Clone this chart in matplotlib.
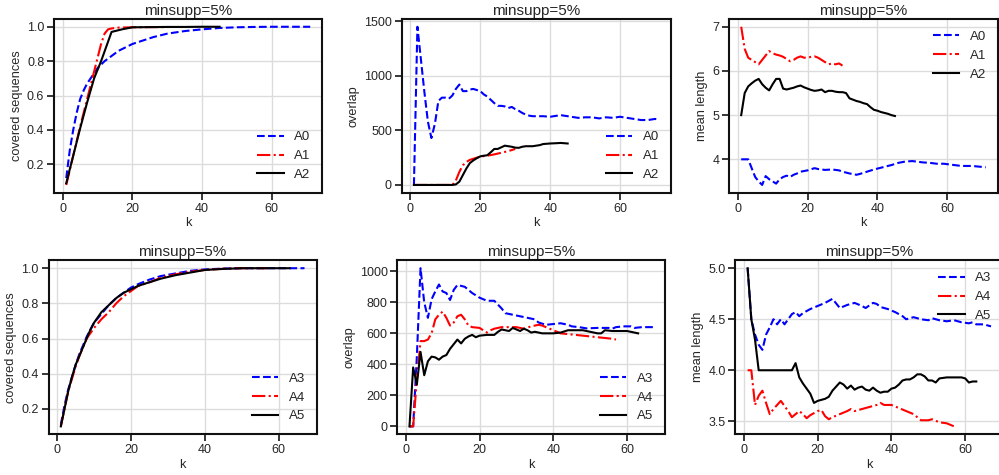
import matplotlib
matplotlib.use("Agg")
import matplotlib.pyplot as plt

# ---- top row: A0, A1, A2 ----
cov_k_a0 = [1, 2, 3, 4, 5, 6, 7, 8, 9, 10, 12, 14, 16, 18, 20, 23, 26, 30, 35, 40, 45, 50, 55, 60, 65, 71]
cov_a0 = [0.12, 0.28, 0.40, 0.50, 0.58, 0.63, 0.67, 0.70, 0.73, 0.76, 0.80, 0.83, 0.86, 0.88, 0.90, 0.92,
          0.94, 0.96, 0.975, 0.985, 0.993, 0.997, 0.999, 1.0, 1.0, 1.0]
cov_k_a1 = [1, 3, 5, 7, 9, 11, 12, 13, 14, 16, 20, 25, 30]
cov_a1 = [0.08, 0.25, 0.42, 0.58, 0.74, 0.90, 0.96, 0.985, 0.99, 0.995, 0.997, 0.998, 0.998]
cov_k_a2 = [1, 3, 5, 7, 9, 11, 14, 17, 20, 25, 30, 35, 40, 45]
cov_a2 = [0.09, 0.25, 0.41, 0.56, 0.70, 0.80, 0.97, 0.985, 0.997, 0.998, 0.999, 0.999, 1.0, 1.0]

ov_k_a0 = [1, 2, 3, 4, 5, 6, 7, 8, 9, 10, 11, 12, 13, 14, 15, 16, 17, 18, 19, 20, 21, 22, 23, 24, 25,
           26, 27, 28, 29, 30, 31, 32, 33, 34, 35, 38, 40, 42, 43, 45, 48, 50, 52, 54, 56, 58, 60, 62,
           64, 66, 68, 70, 71]
ov_a0 = [0, 1450, 1150, 850, 580, 430, 560, 770, 800, 800, 790, 820, 880, 920, 860, 860, 875, 880, 870,
         860, 830, 810, 780, 750, 725, 725, 720, 705, 715, 695, 680, 660, 645, 635, 630, 630, 625, 635,
         640, 630, 615, 620, 620, 610, 620, 615, 625, 615, 605, 595, 595, 605, 600]
ov_k_a1 = [1, 12, 13, 14, 15, 16, 17, 18, 19, 20, 22, 24, 26, 28, 30]
ov_a1 = [0, 0, 40, 120, 180, 210, 230, 240, 250, 260, 268, 280, 295, 310, 330]
ov_k_a2 = [1, 12, 13, 14, 15, 16, 17, 18, 19, 20, 21, 22, 23, 24, 25, 26, 27, 28, 29, 30, 31, 32, 33,
           35, 37, 38, 40, 42, 43, 45]
ov_a2 = [0, 0, 5, 30, 90, 150, 200, 225, 245, 262, 268, 272, 300, 330, 330, 345, 360, 355, 350, 342,
         340, 350, 355, 355, 365, 375, 380, 383, 385, 380]

ml_k_a0 = [1, 2, 3, 4, 5, 6, 7, 8, 9, 10, 11, 12, 13, 14, 15, 16, 17, 18, 20, 22, 23, 25, 27, 29, 30,
           32, 34, 35, 37, 39, 42, 44, 46, 48, 50, 53, 55, 57, 59, 61, 64, 67, 71]
ml_a0 = [4.0, 4.0, 4.0, 3.8, 3.6, 3.5, 3.42, 3.62, 3.55, 3.5, 3.45, 3.55, 3.6, 3.63, 3.6, 3.65, 3.68,
         3.72, 3.75, 3.8, 3.78, 3.76, 3.77, 3.75, 3.72, 3.68, 3.65, 3.67, 3.72, 3.77, 3.83, 3.87, 3.92,
         3.95, 3.96, 3.93, 3.92, 3.9, 3.9, 3.88, 3.85, 3.85, 3.82]
ml_k_a1 = list(range(1, 31))
ml_a1 = [7.0, 6.5, 6.3, 6.25, 6.2, 6.15, 6.25, 6.35, 6.45, 6.4, 6.37, 6.35, 6.32, 6.27, 6.22, 6.25,
         6.3, 6.33, 6.3, 6.3, 6.32, 6.33, 6.3, 6.25, 6.2, 6.15, 6.17, 6.15, 6.17, 6.12]
ml_k_a2 = list(range(1, 46))
ml_a2 = [5.0, 5.5, 5.65, 5.72, 5.78, 5.82, 5.7, 5.62, 5.56, 5.7, 5.82, 5.82, 5.6, 5.58, 5.6, 5.62,
         5.65, 5.67, 5.63, 5.6, 5.57, 5.55, 5.56, 5.58, 5.52, 5.55, 5.55, 5.53, 5.52, 5.52, 5.5, 5.38,
         5.35, 5.32, 5.3, 5.27, 5.25, 5.18, 5.12, 5.1, 5.07, 5.05, 5.03, 5.0, 4.98]

# ---- bottom row: A3, A4, A5 ----
cov_k_a3 = [1, 2, 3, 4, 5, 6, 7, 8, 9, 10, 12, 14, 16, 18, 20, 22, 25, 28, 32, 36, 40, 45, 50, 55, 60, 67]
cov_a3 = [0.11, 0.22, 0.31, 0.38, 0.45, 0.51, 0.56, 0.61, 0.65, 0.69, 0.74, 0.79, 0.83, 0.86, 0.89,
          0.91, 0.935, 0.955, 0.97, 0.985, 0.993, 0.998, 1.0, 1.0, 1.0, 1.0]
cov_k_a4 = [1, 2, 3, 4, 5, 6, 7, 8, 9, 10, 12, 14, 16, 18, 20, 22, 25, 28, 32, 36, 40, 45, 50, 57]
cov_a4 = [0.10, 0.20, 0.30, 0.37, 0.44, 0.50, 0.55, 0.60, 0.63, 0.66, 0.71, 0.75, 0.80, 0.84, 0.87,
          0.90, 0.92, 0.945, 0.965, 0.98, 0.99, 0.997, 1.0, 1.0]
cov_k_a5 = [1, 2, 3, 4, 5, 6, 7, 8, 9, 10, 12, 14, 16, 18, 20, 22, 25, 28, 32, 36, 40, 45, 50, 55, 63]
cov_a5 = [0.10, 0.20, 0.30, 0.38, 0.45, 0.50, 0.55, 0.60, 0.65, 0.69, 0.75, 0.79, 0.83, 0.86, 0.88,
          0.90, 0.92, 0.94, 0.96, 0.975, 0.99, 0.996, 1.0, 1.0, 1.0]

ov_k_a3 = [1, 2, 3, 4, 5, 6, 7, 8, 9, 10, 11, 12, 13, 14, 16, 18, 20, 22, 24, 26, 27, 29, 31, 33, 35,
           36, 38, 40, 42, 44, 45, 47, 49, 52, 55, 56, 57, 59, 61, 62, 64, 67]
ov_a3 = [0, 0, 450, 1020, 800, 700, 820, 870, 915, 870, 860, 815, 880, 912, 900, 860, 830, 810, 810,
         760, 730, 720, 710, 700, 690, 670, 655, 660, 665, 655, 645, 640, 632, 635, 635, 630, 640, 645,
         645, 635, 640, 640]
ov_k_a4 = [1, 2, 3, 4, 5, 6, 7, 8, 9, 10, 11, 12, 13, 14, 15, 16, 17, 18, 20, 22, 23, 24, 26, 28, 30,
           32, 34, 36, 37, 38, 40, 42, 44, 46, 48, 50, 52, 54, 56, 57]
ov_a4 = [0, 0, 300, 550, 550, 560, 600, 690, 720, 740, 700, 650, 670, 710, 720, 690, 650, 640, 635,
         605, 620, 630, 640, 640, 640, 630, 645, 655, 650, 640, 620, 600, 595, 590, 585, 580, 575, 570,
         565, 560]
ov_k_a5 = [1, 2, 3, 4, 5, 6, 7, 8, 9, 10, 11, 12, 13, 14, 15, 16, 17, 18, 19, 20, 22, 24, 25, 26, 28,
           29, 30, 31, 32, 33, 34, 35, 36, 37, 40, 42, 44, 46, 48, 50, 52, 53, 54, 56, 58, 60, 62, 63]
ov_a5 = [0, 380, 270, 480, 330, 420, 450, 445, 430, 450, 460, 500, 530, 560, 535, 565, 580, 590, 575,
         585, 590, 590, 610, 625, 615, 635, 625, 615, 630, 620, 605, 610, 605, 600, 600, 605, 620, 620,
         620, 610, 600, 600, 620, 615, 615, 615, 605, 600]

ml_k_a3 = [1, 2, 3, 4, 5, 6, 7, 8, 9, 10, 11, 12, 13, 14, 15, 16, 18, 20, 22, 24, 26, 28, 30, 32, 33,
           35, 36, 37, 39, 41, 43, 44, 46, 48, 50, 51, 53, 55, 57, 59, 61, 62, 63, 65, 67]
ml_a3 = [5.0, 4.5, 4.35, 4.25, 4.2, 4.35, 4.42, 4.5, 4.45, 4.5, 4.45, 4.5, 4.55, 4.57, 4.53, 4.56,
         4.6, 4.63, 4.66, 4.7, 4.61, 4.64, 4.66, 4.63, 4.61, 4.66, 4.65, 4.62, 4.6, 4.57, 4.53, 4.5,
         4.52, 4.5, 4.49, 4.51, 4.49, 4.48, 4.49, 4.47, 4.46, 4.47, 4.45, 4.45, 4.43]
ml_k_a4 = [1, 2, 3, 4, 5, 6, 7, 8, 9, 10, 11, 12, 13, 14, 15, 16, 17, 18, 19, 20, 21, 22, 23, 24, 26,
           28, 29, 30, 32, 34, 36, 37, 38, 40, 42, 44, 46, 48, 50, 51, 53, 55, 57]
ml_a4 = [4.0, 4.0, 3.66, 3.75, 3.8, 3.68, 3.57, 3.62, 3.66, 3.7, 3.65, 3.6, 3.54, 3.57, 3.6, 3.57,
         3.53, 3.56, 3.58, 3.6, 3.61, 3.55, 3.52, 3.54, 3.57, 3.6, 3.62, 3.6, 3.62, 3.64, 3.66, 3.68,
         3.66, 3.66, 3.63, 3.6, 3.57, 3.51, 3.51, 3.52, 3.49, 3.48, 3.45]
ml_k_a5 = list(range(1, 54)) + [55, 57, 59, 60, 61, 62, 63]
ml_a5 = [5.0, 4.5, 4.3, 4.0, 4.0, 4.0, 4.0, 4.0, 4.0, 4.0, 4.0, 4.0, 4.0, 4.07, 3.93, 3.87, 3.82,
         3.77, 3.68, 3.7, 3.71, 3.72, 3.74, 3.8, 3.84, 3.88, 3.86, 3.82, 3.85, 3.81, 3.83, 3.84, 3.81,
         3.8, 3.83, 3.8, 3.78, 3.79, 3.79, 3.82, 3.83, 3.86, 3.9, 3.91, 3.91, 3.93, 3.96, 3.96, 3.94,
         3.9, 3.9, 3.88, 3.92, 3.93, 3.93, 3.93, 3.92, 3.88, 3.89, 3.89]

labels_top = ["A0", "A1", "A2"]
labels_bot = ["A3", "A4", "A5"]
styles = [dict(color="blue", ls="--"), dict(color="red", ls="-."), dict(color="black", ls="-")]

plt.rcParams["font.family"] = ["Liberation Sans", "DejaVu Sans"]
plt.rcParams["text.color"] = "#262626"
plt.rcParams["axes.labelcolor"] = "#262626"
plt.rcParams["xtick.color"] = "#262626"
plt.rcParams["ytick.color"] = "#262626"


def panel(fig, rect, series, labels, ylabel, loc):
    ax = fig.add_axes(rect)
    for (k, v), lab, st in zip(series, labels, styles):
        ax.plot(k, v, lw=1.5, label=lab, **st)
    ax.set_title("minsupp=5%", fontsize=11, pad=3)
    ax.set_xlabel("k", fontsize=9.2, labelpad=2)
    ax.set_ylabel(ylabel, fontsize=9.2, labelpad=3)
    ax.set_xticks([0, 20, 40, 60])
    ax.grid(True, color="#dcdcdc", lw=1)
    ax.set_axisbelow(True)
    for s in ax.spines.values():
        s.set_linewidth(1.5)
        s.set_color("#111111")
    ax.tick_params(direction="out", length=5, width=1.3, labelsize=9, pad=2)
    ax.legend(loc=loc, frameon=False, fontsize=9.5, handlelength=2.0)
    return ax


def main():
    fig = plt.figure(figsize=(9.99, 4.75), dpi=100)
    h = 0.3663
    top_b, bot_b = 0.594, 0.0857
    panel(fig, [0.0541, top_b, 0.2686, h],
          [(cov_k_a0, cov_a0), (cov_k_a1, cov_a1), (cov_k_a2, cov_a2)],
          labels_top, "covered sequences", "lower right")
    panel(fig, [0.4021, top_b, 0.2693, h],
          [(ov_k_a0, ov_a0), (ov_k_a1, ov_a1), (ov_k_a2, ov_a2)],
          labels_top, "overlap", "lower right")
    panel(fig, [0.7297, top_b, 0.2693, h],
          [(ml_k_a0, ml_a0), (ml_k_a1, ml_a1), (ml_k_a2, ml_a2)],
          labels_top, "mean length", "upper right")
    panel(fig, [0.0487, bot_b, 0.2683, h],
          [(cov_k_a3, cov_a3), (cov_k_a4, cov_a4), (cov_k_a5, cov_a5)],
          labels_bot, "covered sequences", "lower right")
    panel(fig, [0.3977, bot_b, 0.2680, h],
          [(ov_k_a3, ov_a3), (ov_k_a4, ov_a4), (ov_k_a5, ov_a5)],
          labels_bot, "overlap", "lower right")
    panel(fig, [0.7362, bot_b, 0.2680, h],
          [(ml_k_a3, ml_a3), (ml_k_a4, ml_a4), (ml_k_a5, ml_a5)],
          labels_bot, "mean length", "upper right")
    fig.savefig("out.png", dpi=100)


if __name__ == "__main__":
    main()
